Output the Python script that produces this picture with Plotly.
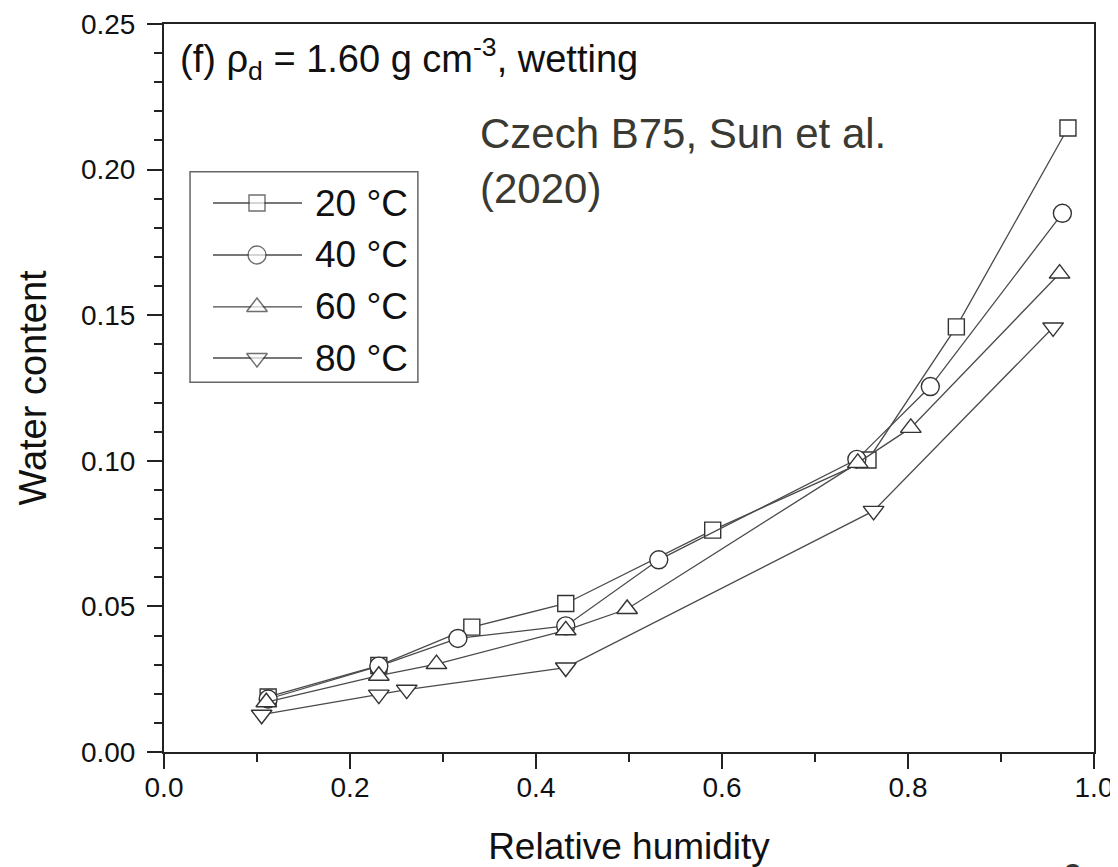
import plotly.graph_objects as go

# ---- data ----
rh_20 = [0.112, 0.231, 0.331, 0.432, 0.590, 0.757, 0.852, 0.972]
wc_20 = [0.0189, 0.0297, 0.0429, 0.0510, 0.0762, 0.1003, 0.1460, 0.2143]

rh_40 = [0.112, 0.231, 0.316, 0.432, 0.532, 0.745, 0.824, 0.966]
wc_40 = [0.0182, 0.0295, 0.0390, 0.0433, 0.0660, 0.1005, 0.1255, 0.1850]

rh_60 = [0.110, 0.231, 0.293, 0.432, 0.498, 0.746, 0.803, 0.963]
wc_60 = [0.0171, 0.0262, 0.0302, 0.0418, 0.0491, 0.0993, 0.1113, 0.1643]

rh_80 = [0.105, 0.231, 0.261, 0.432, 0.763, 0.956]
wc_80 = [0.0128, 0.0197, 0.0214, 0.0290, 0.0828, 0.1458]

series_names = ["20 °C", "40 °C", "60 °C", "80 °C"]
symbols = ["square", "circle", "triangle-up", "triangle-down"]
marker_sizes = [16, 18, 18, 18]

x_ticks = [0.0, 0.2, 0.4, 0.6, 0.8, 1.0]
x_ticklabels = ["0.0", "0.2", "0.4", "0.6", "0.8", "1.0"]
y_ticks = [0.00, 0.05, 0.10, 0.15, 0.20, 0.25]
y_ticklabels = ["0.00", "0.05", "0.10", "0.15", "0.20", "0.25"]

FONT = "Liberation Sans, Arial, sans-serif"
INK = "#111111"

fig = go.Figure()
for i, (xs, ys) in enumerate([(rh_20, wc_20), (rh_40, wc_40), (rh_60, wc_60), (rh_80, wc_80)]):
    fig.add_trace(go.Scatter(
        x=xs, y=ys, mode="lines+markers", name=series_names[i], showlegend=False,
        line=dict(color="#4a4a4a", width=1.3),
        marker=dict(symbol=symbols[i], size=marker_sizes[i], color="white",
                    line=dict(color="#333333", width=1.4)),
    ))

# ---- hand-made legend box (Origin style: line - marker - line) on an overlay axis ----
leg_rows = [0.7541, 0.6827, 0.6113, 0.5412]
leg_x0, leg_xm, leg_x1, leg_tx = 0.0527, 0.100, 0.1484, 0.160
lx, ly = [], []
for r in leg_rows:
    lx += [leg_x0, leg_x1, None]
    ly += [r, r, None]
fig.add_trace(go.Scatter(x=lx, y=ly, xaxis="x2", yaxis="y2", mode="lines",
                         line=dict(color="#4a4a4a", width=1.3), showlegend=False,
                         hoverinfo="skip"))
fig.add_trace(go.Scatter(x=[leg_xm] * 4, y=leg_rows, xaxis="x2", yaxis="y2", mode="markers",
                         marker=dict(symbol=symbols, size=marker_sizes, color="white",
                                     line=dict(color="#333333", width=1.4)),
                         showlegend=False, hoverinfo="skip"))
for r, name in zip(leg_rows, series_names):
    fig.add_annotation(xref="paper", yref="paper", x=leg_tx, y=r, xanchor="left", yanchor="middle",
                       text=name, showarrow=False, font=dict(family=FONT, size=37, color=INK))
fig.add_shape(type="rect", xref="paper", yref="paper", x0=0.028, x1=0.273, y0=0.508, y1=0.797,
              line=dict(color="#666666", width=1.5), fillcolor="rgba(0,0,0,0)", layer="above")

axis_common = dict(
    showline=True, linecolor="#222222", linewidth=2, mirror=True,
    ticks="outside", ticklen=15, tickwidth=2, tickcolor="#222222",
    showgrid=False, zeroline=False, automargin=False,
    tickfont=dict(family=FONT, size=28, color=INK),
)

fig.update_xaxes(
    range=[0, 1], tickvals=x_ticks, ticktext=x_ticklabels,
    minor=dict(ticks="outside", ticklen=8, tickwidth=2, tickcolor="#222222", dtick=0.1),
    ticklabelstandoff=-6,
    title=dict(text="Relative humidity", font=dict(family=FONT, size=37, color=INK), standoff=38),
    **axis_common,
)
fig.update_yaxes(
    range=[0, 0.25], tickvals=y_ticks, ticktext=y_ticklabels,
    minor=dict(ticks="outside", ticklen=8, tickwidth=2, tickcolor="#222222", dtick=0.01),
    ticklabelstandoff=6,
    title=dict(text="Water content", font=dict(family=FONT, size=38, color=INK), standoff=23),
    **axis_common,
)

fig.add_annotation(
    xref="paper", yref="paper", x=0.015, y=0.992, xanchor="left", yanchor="top",
    text="(f) ρ<sub>d</sub> = 1.60 g cm<sup>-3</sup>, wetting", showarrow=False,
    font=dict(family=FONT, size=38, color=INK), align="left",
)
fig.add_annotation(
    xref="paper", yref="paper", x=0.3376, y=0.885, xanchor="left", yanchor="top",
    text="Czech B75, Sun et al.<br>(2020)", showarrow=False,
    font=dict(family=FONT, size=42, color="#3a3a33"), align="left",
)
fig.add_annotation(
    xref="paper", yref="paper", x=0.977, y=-0.142, xanchor="center", yanchor="top",
    text="9", showarrow=False,
    font=dict(family=FONT, size=36, color="#333333"),
)

# page body has an 8px margin, so the figure is sized/placed to land the plot at
# page pixels x 164-1094, y 24-752
fig.update_layout(
    width=1110, height=859,
    margin=dict(l=156, r=24, t=16, b=115, autoexpand=False),
    paper_bgcolor="white", plot_bgcolor="white",
    showlegend=False,
    xaxis2=dict(overlaying="x", range=[0, 1], visible=False, fixedrange=True),
    yaxis2=dict(overlaying="y", range=[0, 1], visible=False, fixedrange=True),
)

fig.write_html("out.html")
